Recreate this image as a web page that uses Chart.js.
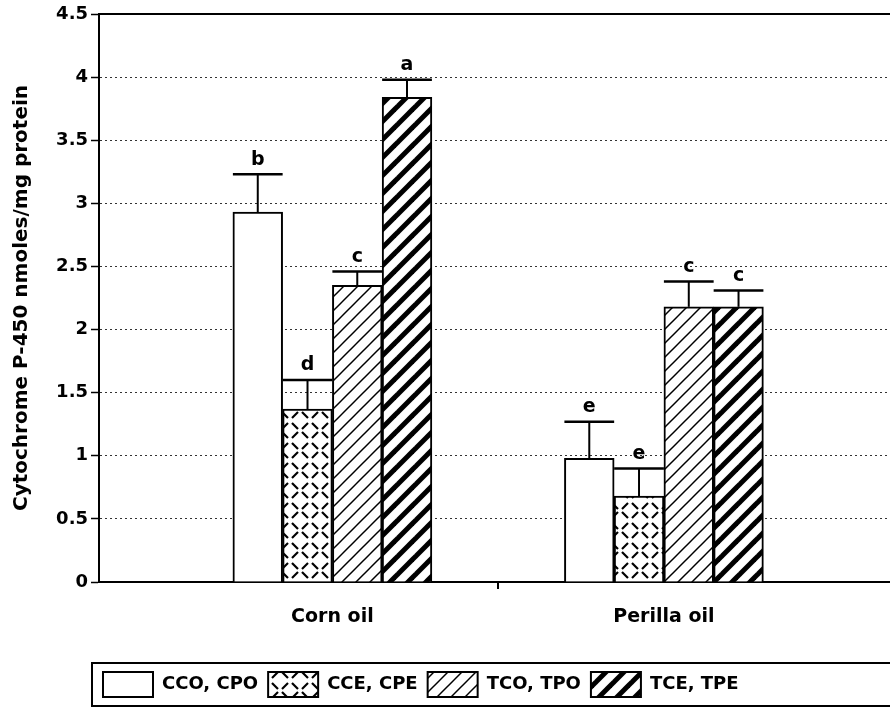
<!DOCTYPE html>
<html>
<head>
<meta charset="utf-8">
<script src="https://cdn.jsdelivr.net/npm/chart.js@4.4.1/dist/chart.umd.min.js"></script>
<style>
  html, body { margin: 0; padding: 0; background: #fff; overflow: hidden; }
  #wrap { width: 890px; height: 717px; }
</style>
</head>
<body>
<div id="wrap"><canvas id="c" width="890" height="717"></canvas></div>
<script>
// ---- data ----
const categories = ['Corn oil', 'Perilla oil'];
const seriesNames = ['CCO, CPO', 'CCE, CPE', 'TCO, TPO', 'TCE, TPE'];
const meanCCO_CPO = [2.93, 0.98];
const meanCCE_CPE = [1.37, 0.68];
const meanTCO_TPO = [2.35, 2.18];
const meanTCE_TPE = [3.84, 2.18];
const seCCO_CPO = [0.30, 0.29];
const seCCE_CPE = [0.23, 0.22];
const seTCO_TPO = [0.11, 0.20];
const seTCE_TPE = [0.14, 0.13];
const lettersCCO_CPO = ['b', 'e'];
const lettersCCE_CPE = ['d', 'e'];
const lettersTCO_TPO = ['c', 'c'];
const lettersTCE_TPE = ['a', 'c'];
const yTickValues = [0, 0.5, 1, 1.5, 2, 2.5, 3, 3.5, 4, 4.5];
const xTickValues = [0, 0.5, 1];
const yTitle = 'Cytochrome P-450 nmoles/mg protein';

// ---- fill patterns ----
function makePattern(w, h, draw) {
  const c = document.createElement('canvas');
  c.width = w; c.height = h;
  const g = c.getContext('2d');
  g.fillStyle = '#fff'; g.fillRect(0, 0, w, h);
  g.strokeStyle = '#000';
  draw(g, w, h);
  return g.createPattern(c, 'repeat');
}
function diagPattern(s, lw) {
  return makePattern(s, s, (g) => {
    g.lineWidth = lw;
    for (const c of [-s, 0, s]) {
      g.beginPath(); g.moveTo(c - 4, s + 4); g.lineTo(c + s + 4, -4); g.stroke();
    }
  });
}
const weave = makePattern(20, 20, (g) => {
  g.lineWidth = 2.2;
  const seg = (a, b, c, d) => { g.beginPath(); g.moveTo(a, b); g.lineTo(c, d); g.stroke(); };
  seg(2, 9, 8, 3);
  seg(12, 3, 18, 9);
  seg(2, 12, 8, 18);
  seg(12, 18, 18, 12);
});
const fills = ['#ffffff', weave, diagPattern(14, 1.5), diagPattern(18, 5)];
const means = [meanCCO_CPO, meanCCE_CPE, meanTCO_TPO, meanTCE_TPE];
const ses = [seCCO_CPO, seCCE_CPE, seTCO_TPO, seTCE_TPE];
const letters = [lettersCCO_CPO, lettersCCE_CPE, lettersTCO_TPO, lettersTCE_TPE];

const datasets = seriesNames.map((name, k) => ({
  label: name,
  data: means[k].map((v, i) => ({ x: i, y: v })),
  backgroundColor: fills[k],
  borderColor: '#000',
  borderWidth: 2,
  barThickness: 49.75
}));

const FONT = '"DejaVu Sans", "Liberation Sans", Arial, sans-serif';
Chart.defaults.font.family = FONT;
Chart.defaults.color = '#000';

const decor = {
  id: 'decor',
  afterLayout(chart) {
    if (chart.legend) chart.legend.left = 93;
  },
  afterDatasetsDraw(chart) {
    const ctx = chart.ctx;
    const ys = chart.scales.y;
    ctx.save();
    ctx.strokeStyle = '#000';
    ctx.fillStyle = '#000';
    ctx.font = 'bold 19px ' + FONT;
    ctx.textAlign = 'center';
    ctx.textBaseline = 'bottom';
    chart.data.datasets.forEach((ds, k) => {
      const meta = chart.getDatasetMeta(k);
      meta.data.forEach((bar, i) => {
        const yTop = ys.getPixelForValue(means[k][i] + ses[k][i]);
        const yBar = bar.y;
        const x = bar.x;
        const w = bar.width;
        ctx.lineWidth = 2;
        ctx.beginPath(); ctx.moveTo(x, yBar); ctx.lineTo(x, yTop); ctx.stroke();
        ctx.lineWidth = 2.5;
        ctx.beginPath(); ctx.moveTo(x - w / 2, yTop); ctx.lineTo(x + w / 2, yTop); ctx.stroke();
        ctx.fillText(letters[k][i], x, yTop - 5);
      });
    });
    // solid top frame line
    const a = chart.chartArea;
    ctx.lineWidth = 2;
    ctx.beginPath(); ctx.moveTo(a.left, a.top); ctx.lineTo(a.right, a.top); ctx.stroke();
    ctx.restore();
  },
  afterDraw(chart) {
    const lg = chart.legend;
    if (!lg) return;
    const ctx = chart.ctx;
    ctx.save();
    ctx.strokeStyle = '#000';
    ctx.lineWidth = 2;
    ctx.strokeRect(92, lg.top + 1, 900, lg.height - 2);
    ctx.restore();
  }
};

new Chart(document.getElementById('c'), {
  type: 'bar',
  data: { datasets },
  options: {
    responsive: false,
    animation: false,
    devicePixelRatio: 1,
    layout: { padding: { left: 0, right: 0, top: 14, bottom: 10 } },
    plugins: {
      tooltip: { enabled: false },
      legend: {
        position: 'bottom',
        align: 'start',
        labels: {
          boxWidth: 50,
          boxHeight: 25,
          padding: 10,
          color: '#000',
          font: { size: 18, weight: 'bold', family: FONT }
        }
      }
    },
    scales: {
      x: {
        type: 'linear',
        min: -0.704,
        max: 1.682,
        offset: false,
        afterBuildTicks: (s) => { s.ticks = xTickValues.map(v => ({ value: v })); },
        afterFit: (s) => { s.height = 80; },
        ticks: {
          autoSkip: false,
          maxRotation: 0,
          padding: 17,
          font: { size: 19, weight: 'bold', family: FONT },
          color: '#000',
          callback: (v) => (Number.isInteger(v) ? categories[v] : '')
        },
        grid: {
          offset: false,
          drawOnChartArea: false,
          drawTicks: true,
          tickLength: 7,
          lineWidth: 2,
          tickColor: (ctx) => (ctx.tick && ctx.tick.value === 0.5 ? '#000' : 'rgba(0,0,0,0)')
        },
        border: { display: true, color: '#000', width: 2 }
      },
      y: {
        min: 0,
        max: 4.5,
        afterBuildTicks: (s) => { s.ticks = yTickValues.map(v => ({ value: v })); },
        afterFit: (s) => { s.width = 99; },
        ticks: {
          padding: 3,
          font: { size: 18, weight: 'bold', family: FONT },
          color: '#000',
          callback: (v) => String(v)
        },
        grid: {
          drawTicks: true,
          tickLength: 8,
          lineWidth: 1,
          color: (ctx) => (ctx.tick && (ctx.tick.value === 4.5 || ctx.tick.value === 0) ? 'rgba(0,0,0,0)' : '#333'),
          tickColor: '#000',
          tickWidth: 1.5
        },
        border: { display: true, color: '#000', width: 2, dash: [2, 3] },
        title: {
          display: true,
          text: yTitle,
          color: '#000',
          font: { size: 20, weight: 'bold', family: FONT },
          padding: { top: 10, bottom: 0 }
        }
      }
    }
  },
  plugins: [decor]
});
</script>
</body>
</html>
